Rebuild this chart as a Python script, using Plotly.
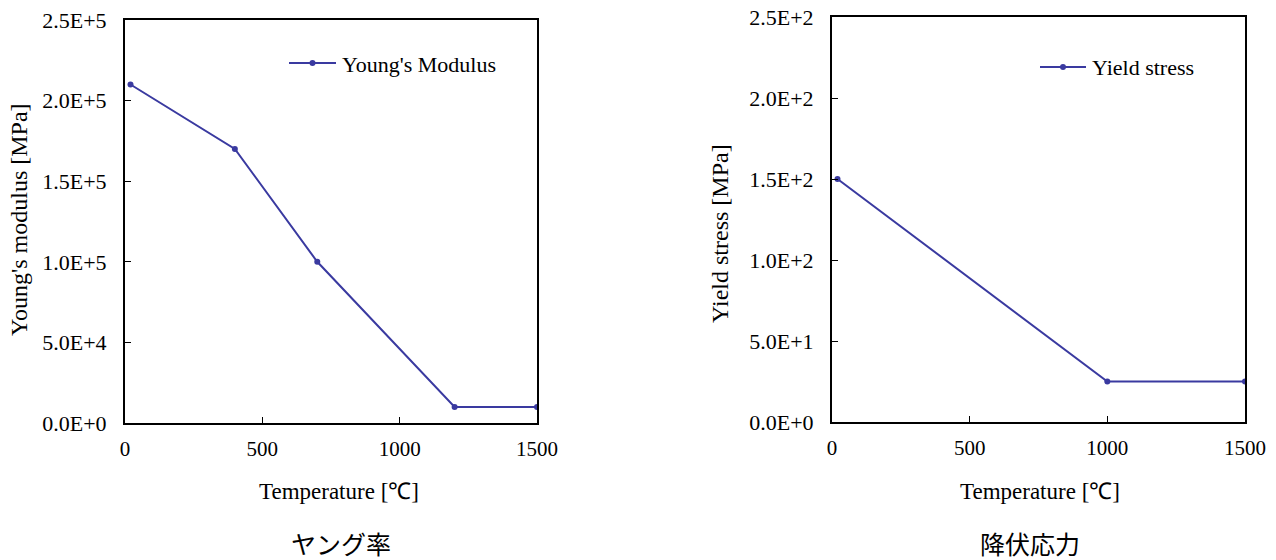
import plotly.graph_objects as go

# Data
temp_young = [20, 400, 700, 1200, 1500]
young_modulus = [2.1e5, 1.7e5, 1.0e5, 1.0e4, 1.0e4]
temp_yield = [20, 1000, 1500]
yield_stress = [150, 25, 25]

x_ticks = [0, 500, 1000, 1500]
young_ticks = [0, 5e4, 1e5, 1.5e5, 2e5, 2.5e5]
young_ticktext = ["0.0E+0", "5.0E+4", "1.0E+5", "1.5E+5", "2.0E+5", "2.5E+5"]
yield_ticks = [0, 50, 100, 150, 200, 250]
yield_ticktext = ["0.0E+0", "5.0E+1", "1.0E+2", "1.5E+2", "2.0E+2", "2.5E+2"]

LINE = "#3a3aa0"
SERIF = "Liberation Serif, Times New Roman, serif"
CJK = "Noto Sans CJK JP"

fig = go.Figure()
fig.add_trace(go.Scatter(x=temp_young, y=young_modulus, mode="lines+markers",
                         name="Young's Modulus", xaxis="x", yaxis="y",
                         line=dict(color=LINE, width=2), marker=dict(color=LINE, size=6),
                         showlegend=False))
fig.add_trace(go.Scatter(x=temp_yield, y=yield_stress, mode="lines+markers",
                         name="Yield stress", xaxis="x2", yaxis="y2",
                         line=dict(color=LINE, width=2), marker=dict(color=LINE, size=6),
                         showlegend=False))

W, H = 1276, 560
L1, R1, T1, B1 = 125, 537, 20, 423
L2, R2, T2, B2 = 832, 1245, 17, 422

def px(x):
    return x / W

def py(y):
    return 1 - y / H

axis_common = dict(showgrid=False, zeroline=False, showline=True, linecolor="black",
                   linewidth=2, mirror=True, ticks="inside", ticklen=6, tickwidth=1,
                   tickcolor="black", automargin=False,
                   tickfont=dict(family=SERIF, size=21, color="black"))

fig.update_layout(
    template="none",
    width=W, height=H, margin=dict(l=0, r=0, t=0, b=0, pad=0), autosize=False,
    paper_bgcolor="white", plot_bgcolor="white",
    xaxis=dict(domain=[px(L1), px(R1)], range=[0, 1500], tickvals=x_ticks,
               anchor="y", ticklabelstandoff=6, **axis_common),
    yaxis=dict(domain=[py(B1), py(T1)], range=[0, 2.5e5], tickvals=young_ticks,
               ticktext=young_ticktext, anchor="x", ticklabelstandoff=12, **axis_common),
    xaxis2=dict(domain=[px(L2), px(R2)], range=[0, 1500], tickvals=x_ticks,
                anchor="y2", ticklabelstandoff=6, **axis_common),
    yaxis2=dict(domain=[py(B2), py(T2)], range=[0, 250], tickvals=yield_ticks,
                ticktext=yield_ticktext, anchor="x2", ticklabelstandoff=12, **axis_common),
    font=dict(family=SERIF, color="black"),
)
fig.update_yaxes(tickfont=dict(size=22))

def note(text, x, y, size, family=SERIF, xanchor="center", angle=0):
    return dict(text=text, x=px(x), y=py(y), xref="paper", yref="paper",
                xanchor=xanchor, yanchor="middle", showarrow=False, textangle=angle,
                font=dict(family=family, size=size, color="black"))

ann = [
    note("Temperature [℃]", 339, 491, 23),
    note("Temperature [℃]", 1040, 491, 23),
    note("Young's modulus [MPa]", 19, 220, 24, angle=-90),
    note("Yield stress [MPa]", 720, 233, 24, angle=-90),
    note("ヤング率", 341, 543, 25, family=CJK),
    note("降伏応力", 1030, 543, 25, family=CJK),
    note("Young's Modulus", 340, 64, 22, xanchor="left"),
    note("Yield stress", 1090, 67, 22, xanchor="left"),
]
fig.update_layout(annotations=ann)

# legend samples
shapes = []
for (x0, x1, y) in [(289, 336, 63), (1040, 1086, 67)]:
    shapes.append(dict(type="line", xref="paper", yref="paper", x0=px(x0), x1=px(x1),
                       y0=py(y), y1=py(y), line=dict(color=LINE, width=2)))
    cx = (x0 + x1) / 2
    shapes.append(dict(type="circle", xref="paper", yref="paper", x0=px(cx - 3), x1=px(cx + 3),
                       y0=py(y + 3), y1=py(y - 3), fillcolor=LINE, line=dict(color=LINE, width=0)))
fig.update_layout(shapes=shapes)

fig.write_html("out.html")
